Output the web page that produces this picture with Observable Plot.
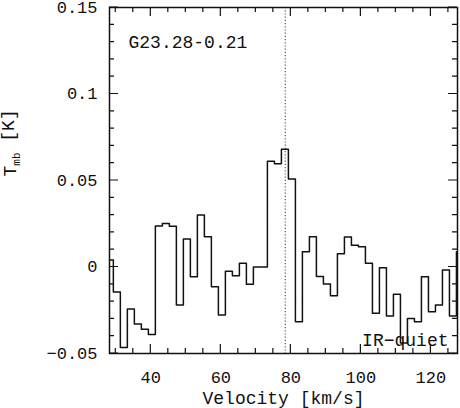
<!DOCTYPE html>
<html><head><meta charset="utf-8">
<script src="https://cdn.jsdelivr.net/npm/d3@7"></script>
<script src="https://cdn.jsdelivr.net/npm/@observablehq/plot@0.6"></script>
<style>body{margin:0;background:#fff} #chart svg{display:block}</style>
</head><body><div id="chart"></div>
<script>
// channel centre velocities (km/s)
const velocity = [28.3,30.3,32.3,34.3,36.3,38.3,40.3,42.3,44.3,46.3,48.3,50.3,52.3,54.3,56.3,58.3,60.3,62.3,64.3,66.3,68.3,70.3,72.3,74.3,76.3,78.3,80.3,82.3,84.3,86.3,88.3,90.3,92.3,94.3,96.3,98.3,100.3,102.3,104.3,106.3,108.3,110.3,112.3,114.3,116.3,118.3,120.3,122.3,124.3,126.3,128.3];
// main-beam temperature (K)
const tmb = [0.004,-0.0145,-0.0466,-0.0243,-0.033,-0.036,-0.039,0.0237,0.0252,0.0235,-0.022,0.0162,-0.0056,0.030,0.0175,-0.0114,-0.0277,-0.0025,-0.005,0.0021,-0.010,0.0,0.0,0.0611,0.0597,0.068,0.0508,-0.0316,0.0088,0.0175,-0.0055,-0.0098,-0.0166,0.0077,0.0174,0.0126,0.0117,0.0021,-0.0268,-0.0004,-0.0283,-0.0158,-0.044,-0.0297,-0.0316,-0.0056,-0.0258,-0.022,-0.0017,-0.0283,0.0088];
const sourceName = "G23.28-0.21";
const classLabel = "IR\u2212quiet";
const markerVelocity = [78.4];
const xLabel = "Velocity [km/s]";
const yLabel = "T_mb [K]";
const xMajorTicks = [40,60,80,100,120];
const xMinorTicks = [30,35,45,50,55,65,70,75,85,90,95,105,110,115,125];
const yMajorTicks = [-0.05,0,0.05,0.1,0.15];
const yMinorTicks = [-0.04,-0.03,-0.02,-0.01,0.01,0.02,0.03,0.04,0.06,0.07,0.08,0.09,0.11,0.12,0.13,0.14];

const data = velocity.map((v, i) => ({v, t: tmb[i]}));
const fmt = d => String(+d.toFixed(2)).replace("-", "\u2212");
const font = "Liberation Mono";
const ink = "#111";

const W = 460, H = 408, mL = 109, mR = 3, mT = 7, mB = 55;

const plot = Plot.plot({
  width: W, height: H,
  marginLeft: mL, marginRight: mR, marginTop: mT, marginBottom: mB,
  style: {fontFamily: font, fontSize: "17px", background: "#fff", color: ink},
  x: {domain: [28.2, 127.6]},
  y: {domain: [-0.05, 0.15]},
  marks: [
    Plot.ruleX(markerVelocity, {stroke: "#555", strokeDasharray: "1.2,2", strokeWidth: 1.2}),
    Plot.line(data, {x: "v", y: "t", curve: "step", stroke: ink, strokeWidth: 1.5, clip: true}),
    Plot.frame({stroke: ink, strokeWidth: 1.5}),
    Plot.axisX({ticks: xMajorTicks, anchor: "bottom", tickSize: 0, tickPadding: 17, label: null, tickFormat: d => String(d), fontSize: 17}),
    Plot.axisY({ticks: yMajorTicks, anchor: "left", tickSize: 0, tickPadding: 12, label: null, tickFormat: fmt, fontSize: 17}),
    Plot.text([xLabel], {frameAnchor: "bottom", dy: 45, text: d => d, fontSize: 18, lineAnchor: "middle"}),
    Plot.text([yLabel], {frameAnchor: "left", dx: -99, dy: -4, rotate: -90, text: d => d, fontSize: 18, lineAnchor: "middle"}),
    Plot.text([sourceName], {frameAnchor: "top-left", dx: 19, dy: 35, text: d => d, textAnchor: "start", lineAnchor: "middle", fontSize: 18}),
    Plot.text([classLabel], {frameAnchor: "bottom-right", dx: -9, dy: -13, text: d => d, textAnchor: "end", lineAnchor: "middle", fontSize: 18})
  ]
});
document.getElementById("chart").appendChild(plot);

// inward ticks on all four sides, placed through the plot's own scales
const sx = plot.scale("x"), sy = plot.scale("y");
const frameTop = mT, frameBottom = H - mB, frameLeft = mL, frameRight = W - mR;
const tg = d3.select(plot).append("g").attr("stroke", ink).attr("stroke-width", 1.2).attr("fill", "none");
for (const [ticks, len] of [[xMajorTicks, 9], [xMinorTicks, 5]]) {
  for (const v of ticks) {
    const px = sx.apply(v);
    tg.append("path").attr("d", `M${px},${frameBottom}v${-len}M${px},${frameTop}v${len}`);
  }
}
for (const [ticks, len] of [[yMajorTicks, 9], [yMinorTicks, 5]]) {
  for (const v of ticks) {
    const py = sy.apply(v);
    tg.append("path").attr("d", `M${frameLeft},${py}h${len}M${frameRight},${py}h${-len}`);
  }
}

// subscript for the y label
d3.select(plot).selectAll("text").filter(function() { return this.textContent === yLabel; }).each(function() {
  const t = d3.select(this);
  t.text(null);
  t.append("tspan").text("T");
  t.append("tspan").attr("font-size", 11).attr("dy", "0.35em").text("mb");
  t.append("tspan").attr("dy", "-0.35em").text(" [K]");
});
</script>
</body></html>
